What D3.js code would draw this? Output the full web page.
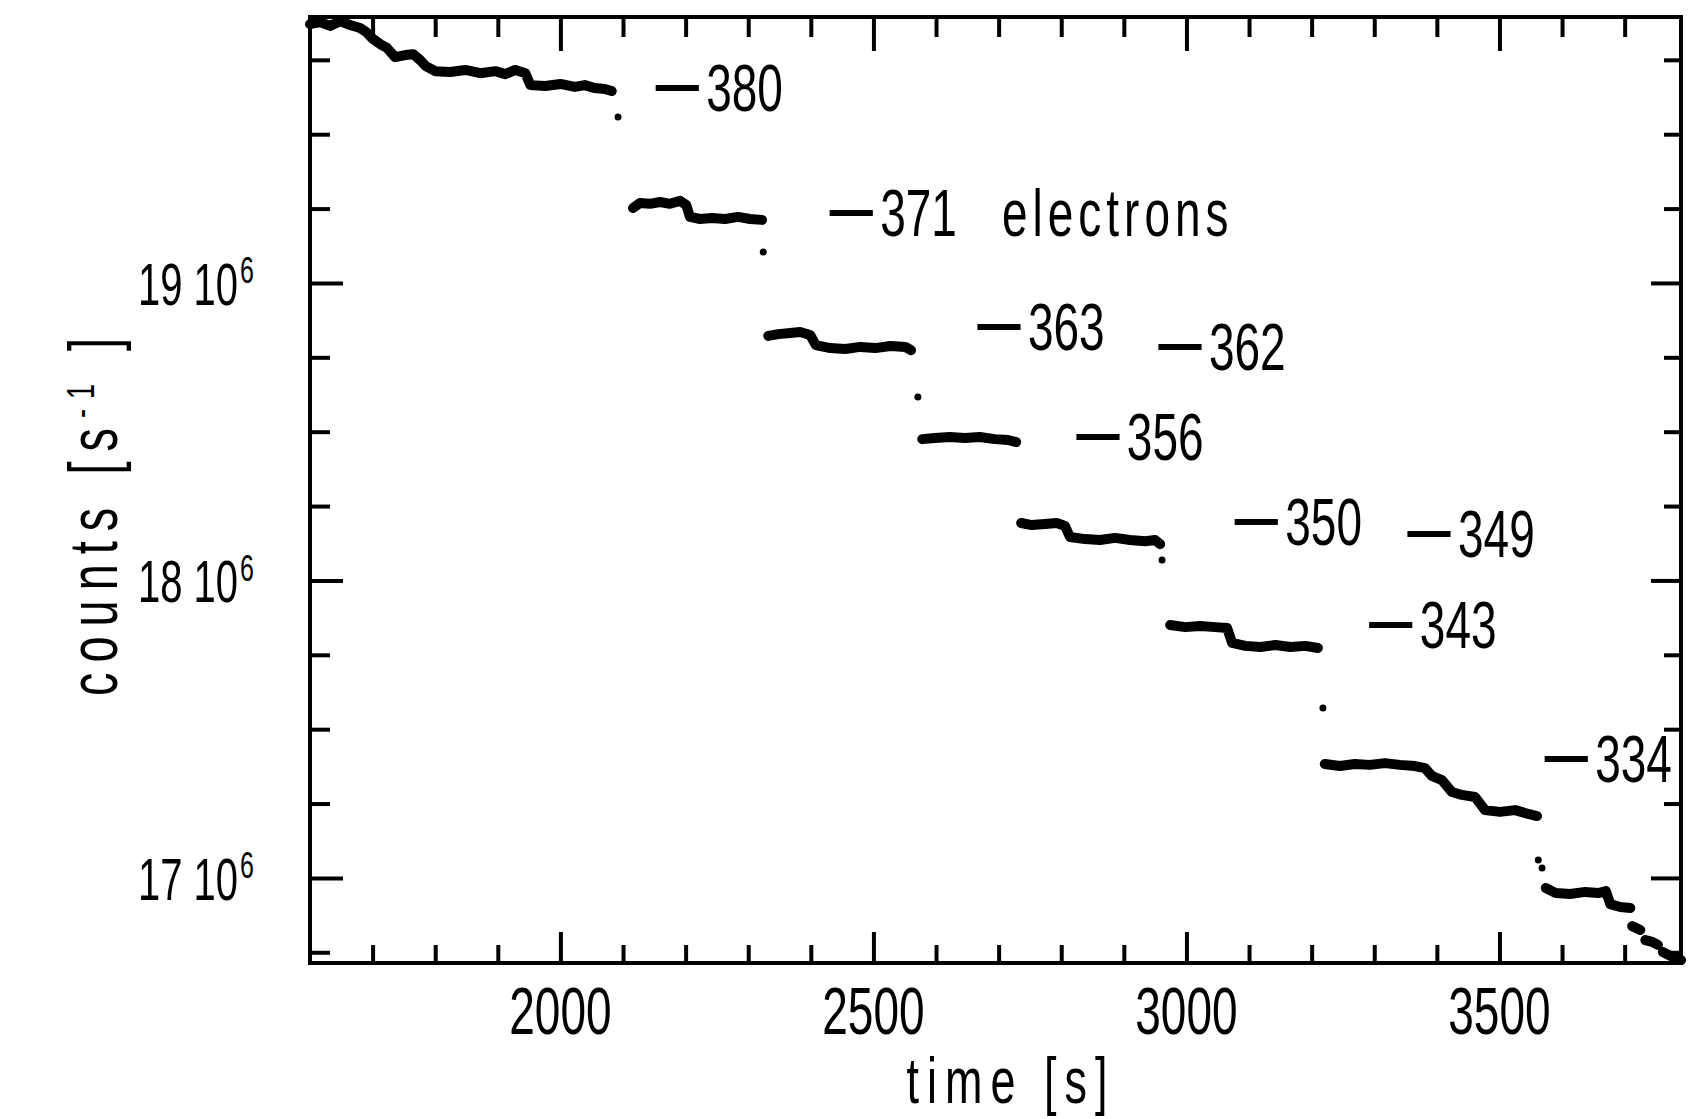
<!DOCTYPE html>
<html>
<head>
<meta charset="utf-8">
<script src="https://cdn.jsdelivr.net/npm/d3@7.9.0/dist/d3.min.js"></script>
<style>
  html, body { margin: 0; padding: 0; background: #fff; }
  svg { display: block; }
  text { font-family: "Liberation Sans", Arial, sans-serif; fill: #000; }
</style>
</head>
<body>
<svg id="chart" width="1707" height="1119"></svg>
<script>
// time [s] and counts [10^6 s^-1], null breaks the trace between plateaus
const traceTime = [
  1600, 1616, 1632, 1648, 1664, 1680, 1690, 1699, 1712, 1723,
  1736, 1752, 1765, 1776, 1785,
  1800, 1824, 1848, 1872, 1896, 1912, 1928, 1944,
  1952, 1976, 2000, 2023, 2039, 2055, 2071, 2082, null,
  2116, 2127, 2143, 2159, 2175, 2191, 2201, 2207, 2223, 2242, 2263, 2284, 2303, 2322, null,
  2332, 2348, 2367, 2383, 2399, 2408, 2431, 2455, 2479, 2503, 2527, 2551, 2560, null,
  2578, 2598, 2622, 2646, 2670, 2694, 2715, 2728, null,
  2736, 2753, 2774, 2793, 2806, 2814, 2838, 2862, 2886, 2910, 2934, 2950, 2958, null,
  2974, 2998, 3022, 3046, 3065, 3073, 3094, 3118, 3142, 3166, 3190, 3210, null,
  3221, 3245, 3269, 3293, 3317, 3341, 3365, 3381, 3392, 3408, 3424, 3440, 3461, 3477, 3501, 3525, 3546, 3560, null,
  3574, 3590, 3613, 3637, 3658, 3670, 3677, 3693, 3709, null,
  3712, 3725, null,
  3733, 3744, 3753, null,
  3761, 3773, 3782, 3790
];
const traceCounts = [
  19.870, 19.877, 19.864, 19.880, 19.867, 19.857, 19.843, 19.823, 19.803, 19.790,
  19.759, 19.766, 19.769, 19.749, 19.729,
  19.712, 19.709, 19.716, 19.705, 19.712, 19.702, 19.716, 19.705,
  19.665, 19.662, 19.669, 19.659, 19.665, 19.655, 19.652, 19.645, null,
  19.252, 19.269, 19.266, 19.272, 19.266, 19.276, 19.262, 19.222, 19.215, 19.218, 19.215, 19.222, 19.215, 19.212, null,
  18.822, 18.828, 18.832, 18.835, 18.825, 18.791, 18.781, 18.778, 18.785, 18.781, 18.788, 18.785, 18.774, null,
  18.475, 18.479, 18.482, 18.479, 18.482, 18.475, 18.472, 18.465, null,
  18.193, 18.186, 18.190, 18.193, 18.183, 18.146, 18.139, 18.136, 18.143, 18.136, 18.132, 18.136, 18.122, null,
  17.850, 17.843, 17.847, 17.843, 17.840, 17.790, 17.780, 17.776, 17.783, 17.776, 17.780, 17.773, null,
  17.383, 17.376, 17.383, 17.380, 17.386, 17.380, 17.376, 17.369, 17.343, 17.329, 17.289, 17.279, 17.272, 17.228, 17.222, 17.228, 17.215, 17.208, null,
  16.966, 16.949, 16.946, 16.953, 16.949, 16.956, 16.912, 16.902, 16.899, null,
  16.838, 16.825, null,
  16.791, 16.785, 16.775, null,
  16.751, 16.738, 16.731, 16.724
];

// single readings caught during the jumps
const jumpTime = [2092, 2324, 2571, 2961, 3218, 3562, 3568];
const jumpCounts = [19.558, 19.104, 18.617, 18.069, 17.571, 17.060, 17.033];

// charge labels
const labelText = ['380', '371', '363', '362', '356', '350', '349', '343', '334'];
const labelNote = ['', 'electrons', '', '', '', '', '', '', ''];
const labelTime = [2153, 2431, 2667, 2956, 2825, 3078, 3354, 3293, 3573];
const labelCounts = [19.658, 19.238, 18.855, 18.788, 18.485, 18.200, 18.159, 17.853, 17.403];

const xMajor = [2000, 2500, 3000, 3500];
const yMajor = [17, 18, 19];

const svg = d3.select('#chart');
svg.append('rect').attr('width', 1707).attr('height', 1119).attr('fill', '#fff');

const x = d3.scaleLinear().domain([1600, 3790]).range([310, 1681]);
const y = d3.scaleLinear().domain([16.714, 19.894]).range([963, 17]);
const SY = 1.46; // plotter lettering is tall and narrow

const xMinor = d3.range(1700, 3800, 100).filter(t => !xMajor.includes(t));
const yMinor = d3.range(16.75, 19.9, 0.25).filter(v => !yMajor.includes(v));

// trace
const points = traceTime.map((t, i) => [t, traceCounts[i]]);
const line = d3.line()
  .defined(d => d[0] != null && d[1] != null)
  .x(d => x(d[0]))
  .y(d => y(d[1]));

svg.append('path')
  .attr('d', line(points))
  .attr('fill', 'none')
  .attr('stroke', '#000')
  .attr('stroke-width', 10)
  .attr('stroke-linejoin', 'round')
  .attr('stroke-linecap', 'round');

svg.append('g').selectAll('circle')
  .data(jumpTime)
  .join('circle')
  .attr('cx', d => x(d))
  .attr('cy', (d, i) => y(jumpCounts[i]))
  .attr('r', 3.5)
  .attr('fill', '#000');

// inward ticks on all four sides
function ticks(axis, values, size, at) {
  const g = svg.append('g')
    .attr('transform', at)
    .call(axis.tickValues(values).tickSizeInner(-size).tickSizeOuter(0).tickFormat(''));
  g.select('.domain').remove();
  g.selectAll('line').attr('stroke', '#000').attr('stroke-width', 4);
}
ticks(d3.axisBottom(x), xMinor, 18, 'translate(0,963)');
ticks(d3.axisBottom(x), xMajor, 31, 'translate(0,963)');
ticks(d3.axisTop(x), xMinor, 20, 'translate(0,17)');
ticks(d3.axisTop(x), xMajor, 34, 'translate(0,17)');
ticks(d3.axisLeft(y), yMinor, 20, 'translate(310,0)');
ticks(d3.axisLeft(y), yMajor, 33, 'translate(310,0)');
ticks(d3.axisRight(y), yMinor, 17, 'translate(1681,0)');
ticks(d3.axisRight(y), yMajor, 30, 'translate(1681,0)');

svg.append('rect')
  .attr('x', 310).attr('y', 17)
  .attr('width', 1681 - 310).attr('height', 963 - 17)
  .attr('fill', 'none')
  .attr('stroke', '#000')
  .attr('stroke-width', 4);

// tick labels
svg.append('g').selectAll('text')
  .data(xMajor)
  .join('text')
  .attr('transform', d => `translate(${x(d)},1034) scale(1,${SY})`)
  .attr('text-anchor', 'middle')
  .attr('font-size', 46)
  .text(d => d);

const ylab = svg.append('g').selectAll('text')
  .data(yMajor)
  .join('text')
  .attr('transform', d => `translate(254,${y(d) + 22}) scale(1,${SY})`)
  .attr('text-anchor', 'end')
  .attr('font-size', 40);
ylab.append('tspan').text(d => d + ' 10');
ylab.append('tspan').attr('font-size', 25).attr('dx', 2).attr('dy', -15).text('6');

// axis titles
svg.append('text')
  .attr('transform', `translate(1011,1103) scale(1,${SY})`)
  .attr('text-anchor', 'middle')
  .attr('font-size', 45)
  .attr('letter-spacing', 8)
  .text('time [s]');

const yt = svg.append('text')
  .attr('transform', `translate(117,512) rotate(-90) scale(1,${SY})`)
  .attr('text-anchor', 'middle')
  .attr('font-size', 47)
  .attr('letter-spacing', 10);
yt.append('tspan').text('counts [s');
yt.append('tspan').attr('font-size', 27).attr('dy', -16).text('-1');
yt.append('tspan').attr('dy', 16).text(' ]');

// charge annotations
const ann = svg.append('g').selectAll('text')
  .data(labelText)
  .join('text')
  .attr('transform', (d, i) => `translate(${x(labelTime[i])},${y(labelCounts[i]) + 24}) scale(1,${SY})`)
  .attr('font-size', 46);
ann.append('tspan')
  .attr('font-size', 42)
  .attr('dy', -5)
  .attr('stroke', '#000')
  .attr('stroke-width', 1.2)
  .text('—');
ann.append('tspan').attr('dx', 8).attr('dy', 5).text(d => d);
ann.filter((d, i) => labelNote[i] !== '')
  .append('tspan')
  .attr('dx', 45)
  .attr('letter-spacing', 5)
  .text(d => labelNote[labelText.indexOf(d)]);
</script>
</body>
</html>
